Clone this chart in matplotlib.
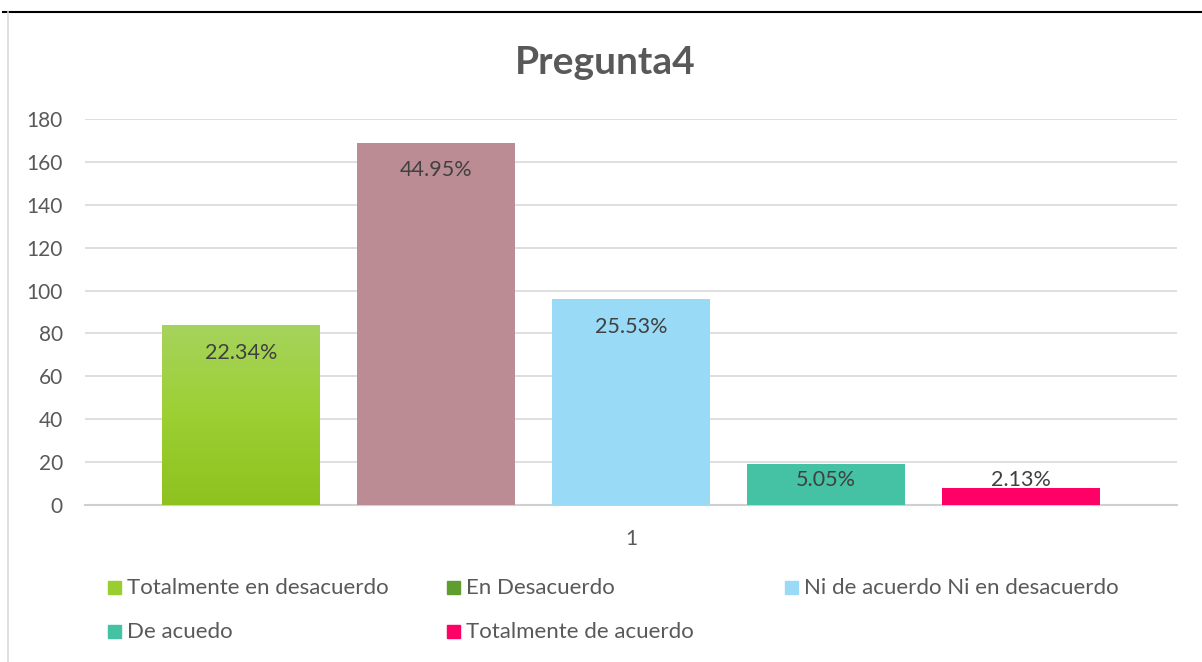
import numpy as np
import matplotlib.pyplot as plt
from matplotlib.patches import Rectangle
from matplotlib.lines import Line2D

# ----------------------
# DATA
# ----------------------
categories = ["Totalmente en desacuerdo", "En Desacuerdo", "Ni de acuerdo Ni en desacuerdo",
              "De acuedo", "Totalmente de acuerdo"]
counts = [84, 169, 96, 19, 8]
pct_labels = ["22.34%", "44.95%", "25.53%", "5.05%", "2.13%"]
bar_colors = ["#9BCD2E", "#BC8C94", "#99DAF6", "#45C1A4", "#FF0066"]
legend_colors = ["#9BCD2E", "#5E9E2E", "#99DAF6", "#45C1A4", "#FF0066"]
y_ticks = [0, 20, 40, 60, 80, 100, 120, 140, 160, 180]

plt.rcParams['font.family'] = ['Lato', 'DejaVu Sans']
W, H = 1202, 662
fig = plt.figure(figsize=(W / 100, H / 100), dpi=100)

# frame lines of the source screenshot
fig.add_artist(Line2D([3 / W, 1], [1 - 12 / H, 1 - 12 / H], color="black", lw=1.5))
fig.add_artist(Line2D([8 / W, 8 / W], [0, 1 - 12 / H], color="#D9D9D9", lw=1.2))

ax = fig.add_axes([85 / W, 1 - 505 / H, (1177 - 85) / W, (505 - 119) / H])
x = list(range(len(counts)))
bars = ax.bar(x, counts, width=0.81, color=bar_colors, zorder=3)

# gradient fill on the first bar (light top, darker bottom)
b0 = bars[0]
grad = np.linspace(0, 1, 100).reshape(-1, 1)
from matplotlib.colors import LinearSegmentedColormap
cmap = LinearSegmentedColormap.from_list("g", ["#8DC21F", "#9CD033", "#A6D35D"])
im = ax.imshow(grad, cmap=cmap, aspect="auto", origin="lower", zorder=3.5,
               extent=[b0.get_x(), b0.get_x() + b0.get_width(), 0, b0.get_height()])
im.set_clip_path(b0)

# data labels (inside end, clamped for short bars)
for xi, v, lab in zip(x, counts, pct_labels):
    ax.text(xi, max(v - 13, 11.7), lab, ha="center", va="center",
            fontsize=15.5, color="#404040", zorder=4)

ax.set_xlim(-0.8, 4.8)
ax.set_ylim(0, 180)
ax.set_yticks(y_ticks)
ax.set_xticks([2])
ax.set_xticklabels(["1"])
ax.tick_params(axis="both", length=0, labelsize=15, labelcolor="#595959")
ax.tick_params(axis="x", pad=17)
ax.tick_params(axis="y", pad=16)
ax.grid(axis="y", color="#D9D9D9", lw=1.2, zorder=0)
for s in ["top", "right", "left"]:
    ax.spines[s].set_visible(False)
ax.spines["bottom"].set_color("#D0D0D0")
ax.spines["bottom"].set_linewidth(1.5)

fig.text(605 / W, 1 - 62 / H, "Pregunta4", ha="center", va="center",
         fontsize=28, fontweight="bold", color="#595959")

# legend, Excel-style fixed columns
col_x = [108, 447, 785]
row_y = [588, 632]
for i, (lab, c) in enumerate(zip(categories, legend_colors)):
    cx = col_x[i % 3]
    cy = row_y[i // 3]
    fig.add_artist(Rectangle((cx / W, 1 - (cy + 6) / H), 13 / W, 13 / H,
                             transform=fig.transFigure, color=c))
    fig.text((cx + 19) / W, 1 - cy / H, lab, ha="left", va="center",
             fontsize=16, color="#595959")

plt.savefig("out.png", dpi=100)
